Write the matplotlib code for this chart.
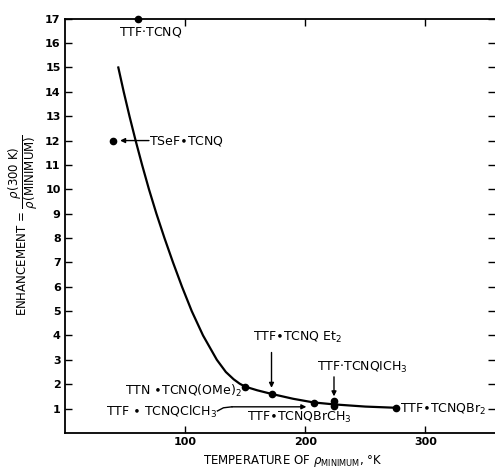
"""
Enhancement of conductivity ratio vs temperature of the resistivity minimum
for TTF-TCNQ family salts.
"""

import matplotlib
matplotlib.use('Agg')
import matplotlib.pyplot as plt

# ---------------------------------------------------------------------------
# Data
# ---------------------------------------------------------------------------
# guide curve through the points
curve_t = [44.5, 49.0, 53.8, 58.9, 64.3, 70.0, 76.2, 82.9, 90.0, 97.5,
           105.6, 115.0, 126.5, 134.0, 140.5, 145.5, 150.0, 160.0, 172.0,
           190.0, 207.0, 224.0, 250.0, 276.0]
curve_e = [15.0, 14.0, 13.0, 12.0, 11.0, 10.0, 9.0, 8.0, 7.0, 6.0,
           5.0, 4.0, 3.0, 2.5, 2.2, 2.02, 1.9, 1.75, 1.6,
           1.4, 1.25, 1.17, 1.08, 1.03]

# measured salts
point_t = [61, 40, 150, 172, 207, 224, 224, 276]
point_e = [17.0, 12.0, 1.9, 1.6, 1.23, 1.12, 1.3, 1.03]

x_ticks = [100, 200, 300]
y_ticks = list(range(1, 18))

FONT = 'DejaVu Sans'
TXT = dict(fontsize=9, family=FONT, color='black')

fig = plt.figure(figsize=(4.95, 4.69), dpi=100)
ax = fig.add_axes([0.131, 0.077, 0.869, 0.883])

ax.plot(curve_t, curve_e, color='black', linewidth=1.6, zorder=2)
ax.plot(point_t, point_e, 'o', color='black', markersize=4.5,
        clip_on=False, zorder=3)

ax.set_xlim(0, 358)
ax.set_ylim(0, 17)
ax.set_xticks(x_ticks)
ax.set_yticks(y_ticks)
ax.spines['right'].set_visible(False)
for s in ('left', 'bottom', 'top'):
    ax.spines[s].set_linewidth(1.3)
ax.tick_params(direction='in', top=True, right=True, length=5, width=1.0,
               labelsize=8, pad=3)
for lab in ax.get_xticklabels() + ax.get_yticklabels():
    lab.set_family(FONT)
    lab.set_fontweight('bold')

# ---------------------------------------------------------------------------
# Labels and arrows
# ---------------------------------------------------------------------------
arrow = dict(arrowstyle='-|>', color='black', lw=1.0,
             mutation_scale=7, shrinkA=0, shrinkB=0)

ax.text(71, 16.45, 'TTF$\\cdot$TCNQ', ha='center', va='center', **TXT)

ax.annotate('', xy=(46, 12), xytext=(70, 12), arrowprops=arrow)
ax.text(70, 12, 'TSeF$\\bullet$TCNQ', ha='left', va='center', **TXT)

ax.text(147, 1.72, 'TTN $\\bullet$TCNQ(OMe)$_2$', ha='right', va='center',
        **TXT)

ax.text(127, 0.85, 'TTF $\\bullet$ TCNQClCH$_3$', ha='right', va='center',
        **TXT)
ax.plot([127, 132, 139], [0.9, 1.03, 1.07], color='black', lw=1.0)
ax.annotate('', xy=(201, 1.07), xytext=(139, 1.07), arrowprops=arrow)

ax.text(152, 0.62, 'TTF$\\bullet$TCNQBrCH$_3$', ha='left', va='center',
        **TXT)

ax.text(157, 3.9, 'TTF$\\bullet$TCNQ Et$_2$', ha='left', va='center', **TXT)
ax.annotate('', xy=(172, 1.85), xytext=(172, 3.3), arrowprops=arrow)

ax.text(210, 2.7, 'TTF$\\cdot$TCNQICH$_3$', ha='left', va='center', **TXT)
ax.annotate('', xy=(224, 1.5), xytext=(224, 2.3), arrowprops=arrow)

ax.text(279, 0.97, 'TTF$\\bullet$TCNQBr$_2$', ha='left', va='center', **TXT)

fig.text(0.046, 0.52,
         r'ENHANCEMENT = $\dfrac{\rho(300\ \mathrm{K})}{\rho(\mathrm{MINIMUM})}$',
         rotation=90, ha='center', va='center', fontsize=8.5, family=FONT)
fig.text(0.592, 0.016, r'TEMPERATURE OF $\rho_{\mathrm{MINIMUM}}$, °K',
         ha='center', va='center', fontsize=8.5, family=FONT)

fig.savefig('out.png', dpi=100)
